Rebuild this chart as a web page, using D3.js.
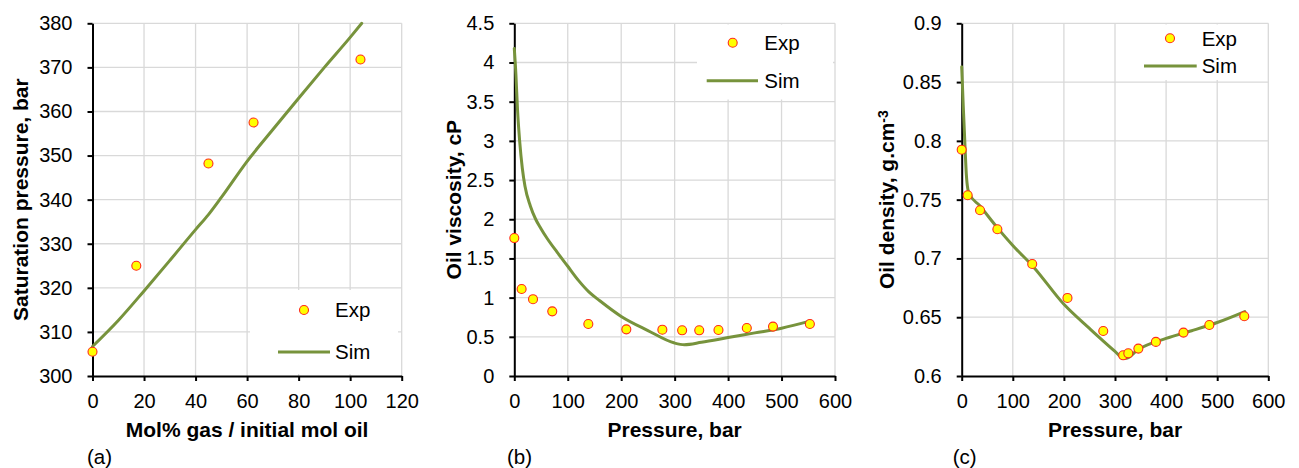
<!DOCTYPE html>
<html><head><meta charset="utf-8">
<script src="https://cdn.jsdelivr.net/npm/d3@7"></script>
<style>
html,body{margin:0;padding:0;background:#fff;}
svg{display:block;font-family:"Liberation Sans",Arial,sans-serif;}
</style></head>
<body>
<svg id="chart" width="1299" height="468"></svg>
<script>
// ---------- DATA ----------
// Panel (a): saturation pressure vs mol% gas
const aExpGas  = [0, 17, 45, 62.5, 104];
const aExpPsat = [305.5, 325, 348.2, 357.5, 371.8];
const aSimGas  = [0, 10, 20, 30, 40, 45, 50, 60, 70, 80, 90, 100, 104.5];
const aSimPsat = [306.7, 312.6, 319.3, 326.2, 333.2, 336.6, 340.5, 348.7, 355.9, 363, 370, 376.8, 380];
const aXTicks  = [0, 20, 40, 60, 80, 100, 120];
const aYTicks  = [300, 310, 320, 330, 340, 350, 360, 370, 380];

// Panel (b): oil viscosity vs pressure
const bExpP    = [0, 13.7, 35, 71, 138.5, 209.6, 277, 314, 346, 382, 435, 484, 553];
const bExpVisc = [1.76, 1.11, 0.98, 0.825, 0.664, 0.595, 0.591, 0.583, 0.583, 0.587, 0.612, 0.63, 0.664];
const bSimP    = [0, 3, 6, 10, 15, 20, 30, 40, 50, 60, 80, 100, 120, 140, 160, 200, 250, 300, 318, 350, 400, 450, 500, 553];
const bSimVisc = [4.18, 3.85, 3.4, 3.0, 2.65, 2.42, 2.17, 2.0, 1.88, 1.77, 1.58, 1.40, 1.22, 1.07, 0.96, 0.76, 0.58, 0.42, 0.40, 0.43, 0.49, 0.55, 0.61, 0.70];
const bXTicks  = [0, 100, 200, 300, 400, 500, 600];
const bYTicks  = [0, 0.5, 1, 1.5, 2, 2.5, 3, 3.5, 4, 4.5];

// Panel (c): oil density vs pressure
const cExpP    = [0, 11.7, 35.9, 69.8, 138, 207, 277, 316, 326, 345.7, 380, 434, 484.6, 553];
const cExpDens = [0.7925, 0.7537, 0.741, 0.7248, 0.6953, 0.6664, 0.6383, 0.6176, 0.6193, 0.6233, 0.629, 0.6369, 0.6434, 0.6508];
const cSimP    = [0, 3, 6, 9, 12, 15, 35, 70, 100, 140, 200, 250, 300, 316, 322, 345, 400, 450, 500, 554];
const cSimDens = [0.863, 0.83, 0.80, 0.772, 0.759, 0.755, 0.745, 0.726, 0.711, 0.693, 0.661, 0.6405, 0.621, 0.6152, 0.6152, 0.6225, 0.632, 0.6385, 0.6455, 0.6548];
const cXTicks  = [0, 100, 200, 300, 400, 500, 600];
const cYTicks  = [0.6, 0.65, 0.7, 0.75, 0.8, 0.85, 0.9];

const legendLabels = ["Exp", "Sim"];

// ---------- STYLE ----------
const GREEN = "#77933C";
const GRID = "#d9d9d9";
const svg = d3.select("#chart");

function panel(cfg) {
  const x = d3.scaleLinear().domain(cfg.xDomain).range(cfg.xRange);
  const y = d3.scaleLinear().domain(cfg.yDomain).range([376, 23.3]);
  const g = svg.append("g");

  // gridlines
  g.selectAll(".vg").data(cfg.xTicks.slice(1)).enter().append("line")
    .attr("x1", d => x(d)).attr("x2", d => x(d))
    .attr("y1", y.range()[0]).attr("y2", y.range()[1])
    .attr("stroke", GRID).attr("stroke-width", 1.3);
  g.selectAll(".hg").data(cfg.yTicks.slice(1)).enter().append("line")
    .attr("y1", d => y(d)).attr("y2", d => y(d))
    .attr("x1", x.range()[0]).attr("x2", x.range()[1])
    .attr("stroke", GRID).attr("stroke-width", 1.3);

  // legend background (covers gridlines)
  const L = cfg.legend;
  g.append("rect").attr("x", L.box[0]).attr("y", L.box[1])
    .attr("width", L.box[2]).attr("height", L.box[3]).attr("fill", "#fff");

  // axes
  const xAxis = g.append("g").attr("transform", `translate(0,${y.range()[0]})`)
    .call(d3.axisBottom(x).tickValues(cfg.xTicks).tickSize(5).tickSizeOuter(0).tickPadding(13).tickFormat(d3.format("d")));
  const yAxis = g.append("g").attr("transform", `translate(${x.range()[0]},0)`)
    .call(d3.axisLeft(y).tickValues(cfg.yTicks).tickSize(5).tickSizeOuter(0).tickPadding(15).tickFormat(cfg.yFmt));
  [xAxis, yAxis].forEach(a => {
    a.select(".domain").attr("stroke", "#000").attr("stroke-width", 2);
    a.selectAll(".tick line").attr("stroke", "#000").attr("stroke-width", 2);
    a.selectAll(".tick text").attr("fill", "#000").style("font-size", "20px")
      .style("font-family", "'Liberation Sans', Arial, sans-serif");
  });

  // sim line
  const simPts = cfg.simX.map((v, i) => [v, cfg.simY[i]]);
  g.append("path").datum(simPts)
    .attr("d", d3.line().x(d => x(d[0])).y(d => y(d[1])).curve(d3.curveMonotoneX))
    .attr("fill", "none").attr("stroke", GREEN).attr("stroke-width", 3)
    .attr("stroke-linejoin", "round").attr("stroke-linecap", "round");

  // exp markers
  const expPts = cfg.expX.map((v, i) => [v, cfg.expY[i]]);
  g.selectAll(".m").data(expPts).enter().append("circle")
    .attr("cx", d => x(d[0])).attr("cy", d => y(d[1])).attr("r", 4.5)
    .attr("fill", "#FFFF00").attr("stroke", "#FF2A1A").attr("stroke-width", 1.1);

  // legend
  g.append("circle").attr("cx", L.marker[0]).attr("cy", L.marker[1]).attr("r", 4.5)
    .attr("fill", "#FFFF00").attr("stroke", "#FF2A1A").attr("stroke-width", 1.1);
  g.append("line").attr("x1", L.line[0]).attr("x2", L.line[1]).attr("y1", L.line[2]).attr("y2", L.line[2])
    .attr("stroke", GREEN).attr("stroke-width", 3);
  g.append("text").attr("x", L.textX).attr("y", L.marker[1]).attr("dy", "0.36em")
    .style("font-size", "20.5px").text(legendLabels[0]);
  g.append("text").attr("x", L.textX).attr("y", L.line[2]).attr("dy", "0.36em")
    .style("font-size", "20.5px").text(legendLabels[1]);

  // x title
  g.append("text").attr("x", (x.range()[0] + x.range()[1]) / 2).attr("y", 437)
    .attr("text-anchor", "middle").style("font-size", "21px").style("font-weight", "bold")
    .text(cfg.xTitle);
  // y title
  const yt = g.append("text")
    .attr("transform", `translate(${cfg.yTitleX},${(y.range()[0] + y.range()[1]) / 2}) rotate(-90)`)
    .attr("text-anchor", "middle").style("font-size", "21px").style("font-weight", "bold");
  yt.append("tspan").text(cfg.yTitle);
  if (cfg.yTitleSup) {
    yt.append("tspan").attr("dy", "-0.45em").style("font-size", "14px").text(cfg.yTitleSup);
  }
  // panel label
  g.append("text").attr("x", cfg.labelX).attr("y", 464).style("font-size", "20.5px").text(cfg.label);
}

panel({
  xDomain: [0, 120], xRange: [92.5, 401.7], yDomain: [300, 380],
  xTicks: aXTicks, yTicks: aYTicks, yFmt: d3.format("d"),
  expX: aExpGas, expY: aExpPsat, simX: aSimGas, simY: aSimPsat,
  legend: { box: [250, 290, 148, 84], marker: [304, 310], line: [278, 330, 352], textX: 335 },
  xTitle: "Mol% gas / initial mol oil", yTitle: "Saturation pressure, bar", yTitleX: 27.5,
  label: "(a)", labelX: 87
});
panel({
  xDomain: [0, 600], xRange: [514.3, 835], yDomain: [0, 4.5],
  xTicks: bXTicks, yTicks: bYTicks, yFmt: d => String(d),
  expX: bExpP, expY: bExpVisc, simX: bSimP, simY: bSimVisc,
  legend: { box: [697, 24.5, 136, 75], marker: [732.7, 42.7], line: [706.7, 758, 80.7], textX: 764.3 },
  xTitle: "Pressure, bar", yTitle: "Oil viscosity, cP", yTitleX: 461,
  label: "(b)", labelX: 507
});
panel({
  xDomain: [0, 600], xRange: [961.7, 1268.3], yDomain: [0.6, 0.9],
  xTicks: cXTicks, yTicks: cYTicks, yFmt: d => String(+d.toFixed(2)),
  expX: cExpP, expY: cExpDens, simX: cSimP, simY: cSimDens,
  legend: { box: [1128, 24.5, 138.5, 55.5], marker: [1170, 38.3], line: [1144, 1196.7, 66], textX: 1201.7 },
  xTitle: "Pressure, bar", yTitle: "Oil density, g.cm", yTitleSup: "-3", yTitleX: 894,
  label: "(c)", labelX: 952.7
});
</script>
</body></html>
